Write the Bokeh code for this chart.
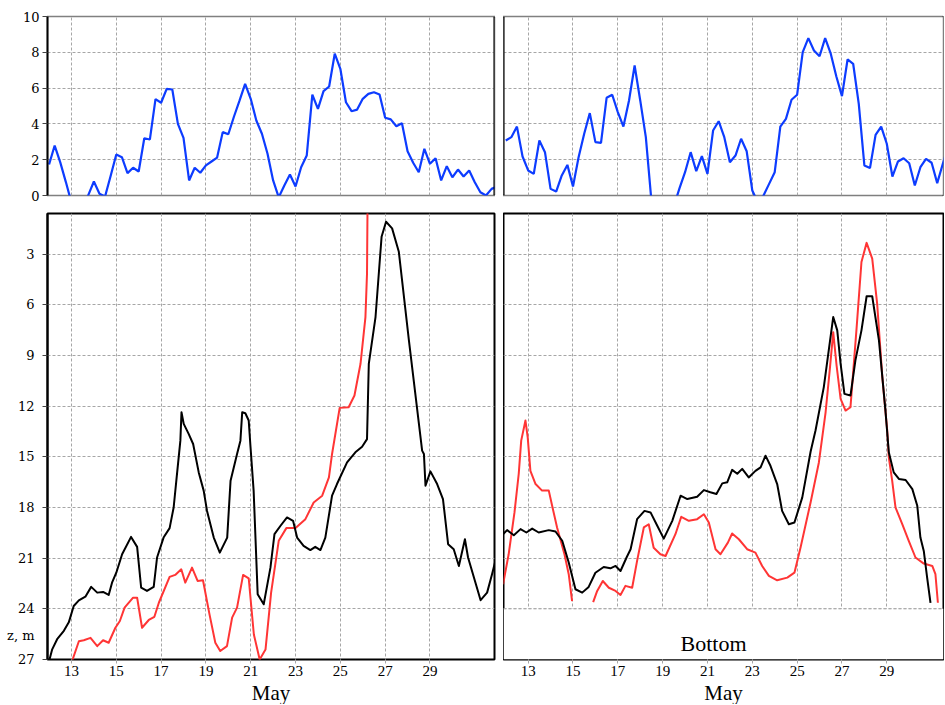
import numpy as np
from bokeh.plotting import figure
from bokeh.layouts import column, row
from bokeh.models import Range1d, FixedTicker, Span, Label, Title
from bokeh.embed import file_html
from bokeh.resources import INLINE

nan = float("nan")

# ---------------- data ----------------
DAY_TICKS = [13, 15, 17, 19, 21, 23, 25, 27, 29]
TOP_TICKS = [0, 2, 4, 6, 8, 10]
Z_TICKS = [3, 6, 9, 12, 15, 18, 21, 24, 27]
Z_LABEL_POS = 25.6
BOTTOM_Z = 24

# 6-hourly series (blue), starting May 12 00:00
tl_blue = [1.73, 2.79, 1.85, 0.75, -0.4, -0.9, -0.9, 0.02, 0.78, 0.1,
           -0.05, 1.1, 2.29, 2.14, 1.25, 1.55, 1.34, 3.2, 3.13, 5.38,
           5.18, 5.96, 5.92, 4.0, 3.22, 0.84, 1.55, 1.27, 1.68, 1.9,
           2.12, 3.54, 3.42, 4.4, 5.3, 6.24, 5.4, 4.19, 3.45, 2.33,
           0.84, -0.1, 0.56, 1.17, 0.5, 1.58, 2.23, 5.63, 4.84, 5.83,
           6.09, 7.92, 7.08, 5.21, 4.71, 4.8, 5.4, 5.68, 5.77, 5.64,
           4.34, 4.25, 3.87, 4.04, 2.47, 1.83, 1.3, 2.61, 1.77, 2.08,
           0.84, 1.64, 1.02, 1.45, 1.06, 1.4, 0.74, 0.18, 0.0, 0.37, 0.5]
tr_blue = [3.07, 3.26, 3.85, 2.18, 1.4, 1.21, 3.07, 2.42, 0.37, 0.22,
           1.12, 1.71, 0.5, 2.14, 3.45, 4.6, 2.98, 2.94, 5.46, 5.63,
           4.66, 3.85, 5.31, 7.26, 5.31, 3.26, -0.3, -1.5, -2.0, -1.5,
           -0.6, 0.4, 1.3, 2.42, 1.36, 2.2, 1.21, 3.63, 4.15, 3.26,
           1.86, 2.23, 3.17, 2.47, 0.28, -0.4, 0.0, 0.65, 1.3, 3.85,
           4.28, 5.35, 5.63, 8.01, 8.79, 8.1, 7.78, 8.79, 7.92, 6.65,
           5.55, 7.6, 7.36, 5.12, 1.68, 1.53, 3.39, 3.85, 2.89, 1.06,
           1.9, 2.08, 1.8, 0.56, 1.58, 2.05, 1.83, 0.69, 1.77, 2.79]
tl_blue_t = np.arange(len(tl_blue)) * 0.25 + 12.0
tr_blue_t = np.arange(len(tr_blue)) * 0.25 + 12.0

# left lower panel
bl_black_t = [12.00, 12.14, 12.36, 12.66, 12.88, 13.10, 13.33, 13.62, 13.88, 14.15,
              14.41, 14.66, 14.81, 15.00, 15.26, 15.66, 15.93, 16.11, 16.37, 16.67,
              16.82, 17.11, 17.38, 17.56, 17.68, 17.86, 17.91, 18.01, 18.23, 18.43,
              18.68, 18.90, 19.05, 19.35, 19.62, 19.95, 20.10, 20.39, 20.54, 20.62,
              20.76, 20.91, 20.99, 21.13, 21.31, 21.58, 21.88, 22.06, 22.33, 22.62,
              22.89, 23.07, 23.36, 23.66, 23.88, 24.11, 24.33, 24.63, 24.85, 25.30,
              25.67, 25.97, 26.19, 26.27, 26.57, 26.84, 27.04, 27.31, 27.61, 28.06,
              28.65, 28.73, 28.80, 29.02, 29.32, 29.58, 29.81, 30.06, 30.29, 30.56,
              30.70, 31.26, 31.55, 31.77, 31.95]
bl_black_z = [27.1, 26.4, 25.8, 25.3, 24.8, 23.83, 23.5, 23.28, 22.7, 23.04,
              23.0, 23.18, 22.45, 21.86, 20.77, 19.74, 20.33, 22.75, 22.94, 22.7,
              20.96, 19.78, 19.22, 18.0, 16.41, 14.04, 12.36, 13.05, 13.64, 14.24,
              15.92, 17.0, 18.2, 19.78, 20.67, 19.78, 16.41, 14.83, 14.04, 12.36,
              12.42, 12.85, 14.4, 17.0, 23.13, 23.73, 21.56, 19.58, 19.08, 18.59,
              18.79, 19.78, 20.27, 20.52, 20.33, 20.52, 19.78, 17.3, 16.61, 15.33,
              14.73, 14.4, 13.95, 9.49, 6.72, 1.97, 1.08, 1.47, 2.86, 8.1,
              14.63, 14.83, 16.71, 15.86, 16.61, 17.5, 20.17, 20.47, 21.46, 19.88,
              20.96, 23.49, 23.04, 21.95, 21.0]
bl_red_t = [13.00, 13.33, 13.55, 13.85, 14.15, 14.41, 14.66, 14.96, 15.16, 15.37,
            15.75, 15.93, 16.15, 16.45, 16.70, 16.90, 17.38, 17.63, 17.90, 18.08,
            18.38, 18.63, 18.87, 19.16, 19.42, 19.64, 19.94, 20.17, 20.39, 20.66,
            20.91, 21.14, 21.40, 21.66, 21.91, 22.25, 22.59, 23.00, 23.44, 23.81,
            24.19, 24.49, 24.63, 24.97, 25.37, 25.63, 25.90, 26.12, 26.19, 26.22]
bl_red_z = [27.2, 25.92, 25.86, 25.72, 26.21, 25.86, 26.01, 25.12, 24.72, 23.93,
            23.34, 23.34, 25.12, 24.66, 24.47, 23.64, 22.11, 21.99, 21.66, 22.45,
            21.56, 22.35, 22.31, 24.33, 26.01, 26.5, 26.21, 24.52, 23.93, 21.99,
            22.19, 25.52, 27.0, 26.41, 23.04, 19.97, 19.22, 19.22, 18.69, 17.7,
            17.3, 16.22, 14.83, 12.1, 12.06, 11.37, 9.49, 6.72, 4.15, -1.0]

# right lower panel
br_black_t = [11.88, 12.06, 12.36, 12.66, 12.92, 13.18, 13.47, 13.92, 14.22, 14.52,
              14.81, 15.11, 15.41, 15.70, 16.00, 16.37, 16.67, 16.90, 17.12, 17.39,
              17.57, 17.86, 18.19, 18.46, 18.76, 19.05, 19.43, 19.80, 20.10, 20.54,
              20.84, 21.13, 21.40, 21.66, 21.88, 22.10, 22.33, 22.55, 22.84, 23.14,
              23.37, 23.59, 23.81, 24.11, 24.33, 24.63, 24.88, 25.23, 25.60, 25.82,
              26.19, 26.41, 26.61, 26.79, 26.94, 27.11, 27.38, 27.60, 27.87, 28.10,
              28.35, 28.65, 28.94, 29.09, 29.31, 29.54, 29.84, 30.14, 30.36, 30.50,
              30.65, 30.80, 30.95]
br_black_z = [19.58, 19.34, 19.64, 19.28, 19.48, 19.25, 19.48, 19.34, 19.42, 19.97,
              21.26, 22.84, 23.04, 22.7, 21.86, 21.52, 21.6, 21.46, 21.76, 20.96,
              20.47, 18.69, 18.2, 18.29, 19.08, 19.84, 18.79, 17.3, 17.5, 17.36,
              16.97, 17.1, 17.2, 16.57, 16.51, 15.77, 16.0, 15.71, 16.22, 15.83,
              15.62, 14.93, 15.53, 16.61, 18.2, 18.99, 18.89, 17.4, 14.7, 13.44,
              10.87, 8.7, 6.72, 7.51, 9.49, 11.27, 11.37, 9.29, 7.51, 5.49,
              5.49, 8.1, 12.26, 14.73, 15.92, 16.31, 16.37, 16.91, 17.9, 19.78,
              20.57, 22.15, 23.64]
br_red_t = [11.88, 12.13, 12.39, 12.58, 12.69, 12.88, 12.98, 13.10, 13.33, 13.62,
            13.92, 14.07, 14.29, 14.62, 14.81, 14.96, 15.40,
            15.90, 16.08, 16.33, 16.60, 16.90, 17.12, 17.34, 17.64, 17.86, 18.16,
            18.38, 18.60, 18.90, 19.13, 19.57, 19.83, 20.17, 20.54, 20.84, 21.06,
            21.36, 21.58, 21.91, 22.10, 22.40, 22.77, 23.14, 23.44, 23.74, 24.11,
            24.56, 24.88, 25.15, 25.60, 25.97, 26.27, 26.46, 26.61, 26.76, 26.94,
            27.16, 27.38, 27.65, 27.87, 28.10, 28.35, 28.57, 28.80, 29.02, 29.09,
            29.24, 29.39, 29.69, 29.98, 30.28, 30.65, 31.03, 31.17, 31.28]
br_red_z = [22.55, 20.77, 18.29, 16.0, 14.04, 12.85, 13.85, 15.83, 16.61, 17.0,
            17.0, 17.9, 19.18, 20.77, 21.95, 23.54, nan,
            23.6, 22.94, 22.35, 22.75, 22.94, 23.18, 22.64, 22.75, 21.16, 19.18,
            18.99, 20.38, 20.77, 20.87, 19.58, 18.55, 18.79, 18.69, 18.4, 18.89,
            20.47, 20.77, 20.08, 19.54, 19.88, 20.47, 20.67, 21.46, 22.05, 22.31,
            22.15, 21.86, 20.38, 17.7, 15.33, 12.36, 9.79, 7.62, 9.59, 11.57,
            12.26, 12.06, 7.42, 3.46, 2.33, 3.26, 5.93, 10.28, 13.44, 15.03,
            16.41, 18.0, 18.99, 19.97, 20.96, 21.32, 21.46, 21.95, 23.64]

# ---------------- style ----------------
GRID = "#a6a6a6"
TICKC = "#444444"
BLUE = "#0d3cff"
RED = "#ff3535"
SERIF = "Liberation Serif"
NUMF = "DejaVu Serif"

LEFT_X = (11.93, 31.88)
RIGHT_X = (11.90, 31.53)
Z_RANGE = (27, 0.59)


def base_grid(p, yticks):
    p.xgrid.ticker = FixedTicker(ticks=DAY_TICKS)
    p.ygrid.ticker = FixedTicker(ticks=yticks)
    for g in (p.xgrid, p.ygrid):
        g.grid_line_color = GRID
        g.grid_line_dash = "3 2"
        g.grid_line_width = 1
    p.background_fill_color = "white"
    p.border_fill_color = "white"


def style_yaxis(ax):
    ax.major_label_text_font = NUMF
    ax.major_label_text_font_size = "13px"
    ax.major_label_text_color = "black"
    ax.major_tick_in = 0
    ax.minor_tick_in = 0
    ax.major_tick_line_color = TICKC
    ax.minor_tick_line_color = TICKC
    ax.axis_line_color = "black"
    ax.axis_line_width = 2


def style_xaxis(ax):
    ax.ticker = FixedTicker(ticks=DAY_TICKS)
    ax.major_label_text_font = SERIF
    ax.major_label_text_font_size = "15px"
    ax.major_label_text_color = "black"
    ax.major_label_standoff = 2
    ax.major_tick_out = 4
    ax.major_tick_in = 0
    ax.minor_tick_out = 0
    ax.minor_tick_in = 0
    ax.major_tick_line_color = GRID
    ax.axis_line_color = None


def top_panel(width, xr, left_border, right_border, with_axis):
    p = figure(width=width, height=204, x_range=Range1d(*xr), y_range=Range1d(0, 10),
               x_axis_location=None, y_axis_location="left" if with_axis else None,
               output_backend="svg", toolbar_location=None,
               min_border_left=left_border, min_border_right=right_border,
               min_border_top=16, min_border_bottom=9)
    base_grid(p, [2, 4, 6, 8])
    p.outline_line_color = "black"
    p.outline_line_dash = "1 1"
    p.outline_line_width = 1.5
    if with_axis:
        ax = p.yaxis[0]
        ax.ticker = FixedTicker(ticks=TOP_TICKS)
        style_yaxis(ax)
        ax.major_tick_out = 5
        ax.minor_tick_out = 0
        ax.major_label_standoff = 3
    return p


def bottom_panel(width, xr, left_border, right_border, with_axis, may_offset):
    p = figure(width=width, height=500, x_range=Range1d(*xr), y_range=Range1d(*Z_RANGE),
               y_axis_location="left" if with_axis else None,
               output_backend="svg", toolbar_location=None,
               min_border_left=left_border, min_border_right=right_border,
               min_border_top=9, min_border_bottom=10)
    base_grid(p, Z_TICKS[:-1])
    p.outline_line_color = "black"
    p.outline_line_width = 2
    style_xaxis(p.xaxis[0])
    if with_axis:
        ax = p.yaxis[0]
        # numbers plus the axis name as labels; tick marks drawn as minor ticks
        ax.ticker = FixedTicker(ticks=Z_TICKS + [Z_LABEL_POS], minor_ticks=Z_TICKS)
        ax.major_label_overrides = {Z_LABEL_POS: "z, m"}
        style_yaxis(ax)
        ax.major_tick_out = 0
        ax.minor_tick_out = 5
        ax.major_label_standoff = 8
    p.add_layout(Title(text="May", align="center", offset=may_offset, standoff=0,
                       text_font=SERIF, text_font_size="21px", text_font_style="normal",
                       text_color="black"), "below")
    return p


tl = top_panel(503, LEFT_X, 47, 9, True)
tr = top_panel(441, RIGHT_X, 0, 1, False)
bl = bottom_panel(503, LEFT_X, 47, 9, True, -21)
br = bottom_panel(441, RIGHT_X, 0, 1, False, -8)

# solid vertical edges of the top panels
tl.add_layout(Span(location=LEFT_X[1], dimension="height", line_color="black", line_width=2))
tr.add_layout(Span(location=RIGHT_X[0], dimension="height", line_color="black", line_width=2))

# series
tl.line(tl_blue_t, tl_blue, line_color=BLUE, line_width=2.2)
tr.line(tr_blue_t, tr_blue, line_color=BLUE, line_width=2.2)

bl.line(bl_red_t, bl_red_z, line_color=RED, line_width=2, line_join="round")
bl.line(bl_black_t, bl_black_z, line_color="black", line_width=2, line_join="round")

br.line(br_red_t, br_red_z, line_color=RED, line_width=2, line_join="round")
br.line(br_black_t, br_black_z, line_color="black", line_width=2, line_join="round")

# sea bottom region in the right panel
br.quad(left=[RIGHT_X[0]], right=[RIGHT_X[1]], bottom=[Z_RANGE[0]], top=[BOTTOM_Z],
        fill_color="white", line_color=None)
br.add_layout(Span(location=BOTTOM_Z, dimension="width", line_color=GRID,
                   line_dash="3 2", line_width=1))
br.add_layout(Label(x=21.27, y=26.03, text="Bottom", text_font=SERIF,
                    text_font_size="22px", text_align="center",
                    text_baseline="alphabetic", text_color="black"))

layout = column(row(tl, tr), row(bl, br))

with open("out.html", "w") as f:
    f.write(file_html(layout, INLINE))
